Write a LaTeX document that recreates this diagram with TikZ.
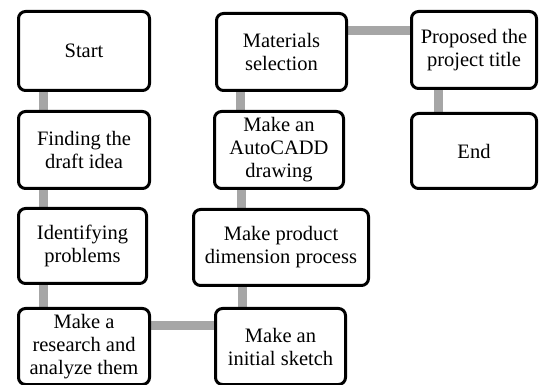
\documentclass[tikz,border=0pt]{standalone}
\usepackage{fontspec}
\setmainfont{Liberation Serif}
\usetikzlibrary{backgrounds}
\begin{document}
\begin{tikzpicture}[x=1pt,y=-1pt,
  stage/.style={draw=black, line width=3pt, rounded corners=7pt, fill=white,
    inner sep=0pt, align=center,
    font=\fontsize{20.5}{23}\selectfont},
  link/.style={draw=black!35, line width=9pt}]
\useasboundingbox (0,0) rectangle (539,385);

% process stages
\node[stage, minimum width=131pt, minimum height=79pt] (start) at (84,51) {Start};
\node[stage, minimum width=131pt, minimum height=77pt] (find) at (84,150) {Finding the\\draft idea};
\node[stage, minimum width=128pt, minimum height=75pt] (ident) at (82.5,246) {Identifying\\problems};
\node[stage, minimum width=131pt, minimum height=76pt] (research) at (84,346.5) {Make a\\research and\\analyze them};
\node[stage, minimum width=130pt, minimum height=76pt] (initial) at (280.5,346.5) {Make an\\initial sketch};
\node[stage, minimum width=175pt, minimum height=76pt] (product) at (281,247.5) {Make product\\dimension process};
\node[stage, minimum width=129pt, minimum height=77pt] (autocad) at (279,150) {Make an\\AutoCADD\\drawing};
\node[stage, minimum width=130pt, minimum height=77pt] (materials) at (281.5,52) {Materials\\selection};
\node[stage, minimum width=125pt, minimum height=77pt] (proposed) at (474,50) {Proposed the\\project title};
\node[stage, minimum width=125pt, minimum height=75pt] (end) at (474,151) {End};

% connectors behind the stages
\begin{scope}[on background layer]
\draw[link] ([xshift=26pt]start.south west) -- ([xshift=26pt]find.north west);
\draw[link] ([xshift=26pt]find.south west) -- ([xshift=26pt]find.south west |- ident.north);
\draw[link] ([xshift=26pt]ident.south west) -- ([xshift=26pt]ident.south west |- research.north);
\draw[link] ([yshift=21pt]research.east) -- ([yshift=21pt]research.east -| initial.west);
\draw[link] ([xshift=28pt]initial.north west) -- ([xshift=28pt]initial.north west |- product.south);
\draw[link] ([xshift=28pt]autocad.south west) -- ([xshift=28pt]autocad.south west |- product.north);
\draw[link] ([xshift=27pt]autocad.north west) -- ([xshift=27pt]autocad.north west |- materials.south);
\draw[link] ([yshift=21pt]materials.east) -- ([yshift=21pt]materials.east -| proposed.west);
\draw[link] ([xshift=28pt]proposed.south west) -- ([xshift=28pt]proposed.south west |- end.north);
\end{scope}
\end{tikzpicture}
\end{document}
